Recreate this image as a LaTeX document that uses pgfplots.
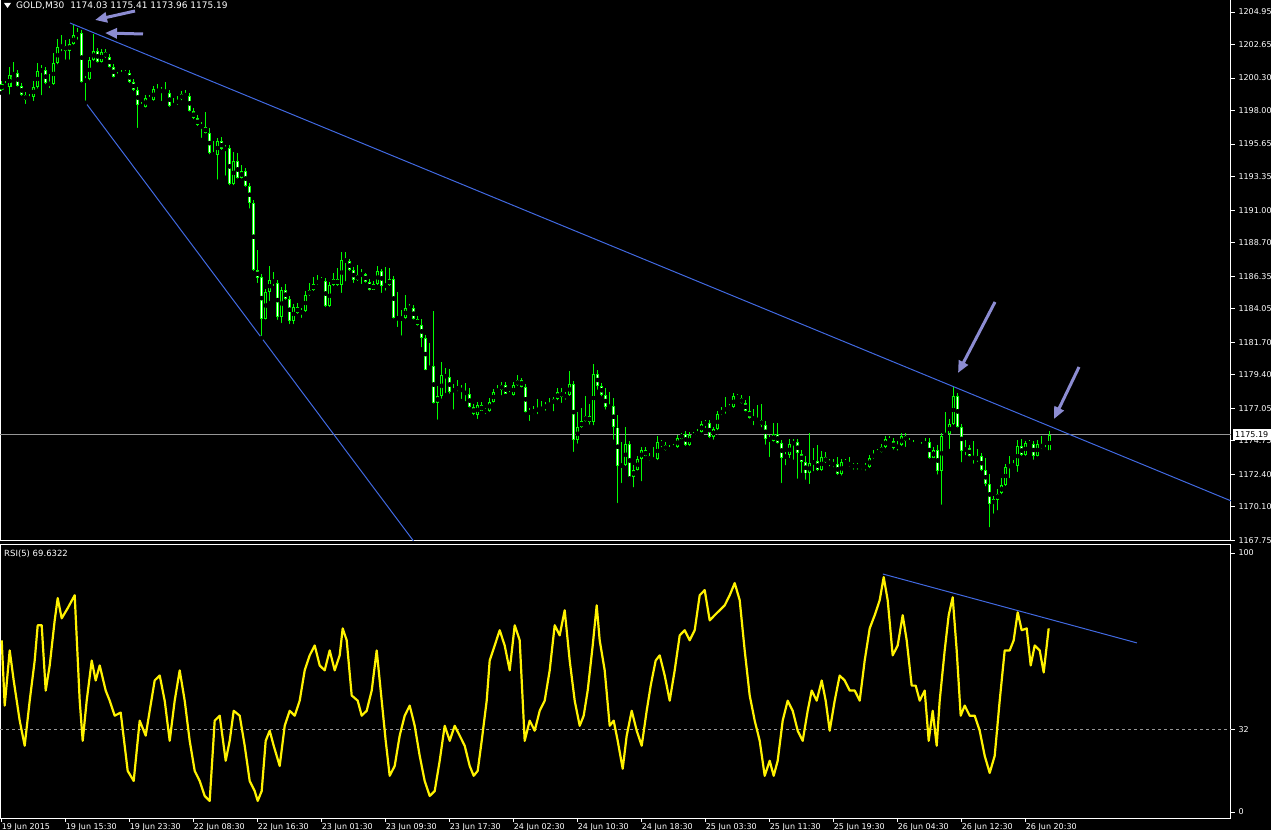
\documentclass[border=0pt]{standalone}
\usepackage{fontspec}
\setmainfont{DejaVu Sans}
\usepackage{pgfplots}
\usepackage{pgfplotstable}
\pgfplotsset{compat=1.18}
\usetikzlibrary{arrows.meta}

\definecolor{candle}{RGB}{0,255,0}
\definecolor{trend}{RGB}{65,105,225}
\definecolor{arrowc}{RGB}{140,140,210}
\definecolor{pline}{RGB}{150,150,150}

% GOLD M30 bars: index, open, high, low, close
\pgfplotstableread{
i o h l c
0 1199.46 1200.09 1199.25 1199.88
1 1199.88 1200.09 1199.46 1199.67
2 1199.67 1201.05 1198.99 1200.52
3 1200.52 1201.41 1200.31 1200.66
4 1200.66 1200.87 1199.55 1199.76
5 1199.76 1199.97 1198.90 1199.11
6 1199.11 1199.32 1198.33 1198.76
7 1198.76 1199.18 1198.55 1198.97
8 1198.97 1200.10 1198.54 1199.69
9 1199.69 1201.34 1199.41 1200.82
10 1200.82 1201.24 1198.95 1200.87
11 1200.87 1201.08 1199.72 1199.93
12 1199.93 1200.56 1199.46 1199.88
13 1199.88 1202.05 1199.67 1201.34
14 1201.34 1203.03 1201.13 1202.47
15 1202.47 1203.33 1202.04 1202.56
16 1202.56 1202.95 1201.45 1202.23
17 1202.23 1203.05 1201.45 1202.70
18 1202.70 1204.04 1202.50 1203.33
19 1203.33 1203.81 1202.86 1203.45
20 1203.45 1203.69 1199.83 1200.04
21 1200.04 1200.42 1198.56 1200.21
22 1200.21 1201.78 1200.00 1201.57
23 1201.57 1203.40 1201.36 1202.21
24 1202.21 1202.42 1201.24 1201.45
25 1201.45 1202.35 1201.24 1202.14
26 1202.14 1202.35 1201.57 1201.78
27 1201.78 1201.99 1200.89 1201.10
28 1201.10 1201.31 1200.19 1200.40
29 1200.40 1200.73 1200.19 1200.52
30 1200.52 1200.87 1200.31 1200.64
31 1200.64 1200.89 1200.47 1200.68
32 1200.68 1200.89 1199.81 1200.02
33 1200.02 1200.23 1199.25 1199.46
34 1199.46 1199.67 1196.64 1198.40
35 1198.40 1198.61 1198.07 1198.28
36 1198.28 1199.11 1198.07 1198.90
37 1198.90 1199.11 1198.55 1198.76
38 1198.76 1199.72 1198.55 1199.51
39 1199.51 1199.85 1199.11 1199.32
40 1199.32 1199.67 1198.54 1199.46
41 1199.46 1200.04 1199.04 1199.25
42 1199.25 1199.46 1198.12 1198.33
43 1198.33 1198.90 1198.12 1198.47
44 1198.47 1199.01 1198.26 1198.80
45 1198.80 1199.39 1198.59 1199.18
46 1199.18 1199.45 1198.83 1199.04
47 1199.04 1199.25 1197.79 1198.00
48 1198.00 1198.21 1197.26 1197.47
49 1197.47 1197.68 1196.78 1196.99
50 1196.99 1197.20 1195.94 1196.83
51 1196.83 1197.91 1196.24 1196.45
52 1196.45 1196.80 1194.79 1195.00
53 1195.00 1195.85 1194.67 1194.88
54 1194.88 1196.08 1193.00 1195.87
55 1195.87 1196.17 1195.09 1195.30
56 1195.30 1195.56 1193.28 1195.35
57 1195.35 1195.56 1192.61 1192.82
58 1192.82 1195.10 1192.61 1194.46
59 1194.46 1194.99 1193.07 1193.28
60 1193.28 1194.20 1193.07 1193.75
61 1193.75 1194.00 1192.49 1192.70
62 1192.70 1192.91 1190.96 1191.48
63 1191.48 1191.69 1186.57 1186.78
64 1186.78 1188.19 1185.72 1186.26
65 1186.26 1186.50 1181.99 1183.35
66 1183.35 1185.44 1183.14 1185.23
67 1185.23 1187.06 1184.45 1186.07
68 1186.07 1186.64 1185.51 1185.86
69 1185.86 1186.07 1183.12 1183.47
70 1183.47 1185.58 1182.90 1185.37
71 1185.37 1185.80 1184.53 1184.74
72 1184.74 1184.95 1182.83 1183.21
73 1183.21 1184.40 1182.83 1184.19
74 1184.19 1184.47 1183.54 1183.75
75 1183.75 1184.10 1183.26 1183.89
76 1183.89 1185.32 1183.68 1185.02
77 1185.02 1185.88 1184.81 1185.37
78 1185.37 1186.31 1185.16 1185.79
79 1185.79 1186.43 1185.58 1186.07
80 1186.07 1186.28 1185.79 1186.00
81 1186.00 1186.21 1184.03 1184.24
82 1184.24 1185.93 1184.03 1185.72
83 1185.72 1186.57 1185.51 1186.19
84 1186.19 1186.90 1185.51 1185.72
85 1185.72 1188.03 1185.02 1187.48
86 1187.48 1188.03 1185.84 1187.41
87 1187.41 1187.55 1186.57 1186.78
88 1186.78 1186.99 1185.72 1186.07
89 1186.07 1187.13 1185.86 1186.43
90 1186.43 1186.85 1185.65 1186.50
91 1186.50 1186.59 1185.74 1185.95
92 1185.95 1186.16 1185.18 1185.37
93 1185.37 1186.00 1185.23 1185.79
94 1185.79 1187.06 1185.58 1186.73
95 1186.73 1186.85 1185.02 1185.67
96 1185.67 1186.97 1185.18 1185.72
97 1185.72 1186.90 1185.51 1186.14
98 1186.14 1186.36 1183.21 1183.42
99 1183.42 1185.25 1182.62 1183.35
100 1183.35 1183.96 1182.01 1183.40
101 1183.40 1185.02 1183.19 1184.15
102 1184.15 1184.38 1183.89 1184.10
103 1184.10 1184.31 1183.14 1183.31
104 1183.31 1183.52 1182.71 1182.95
105 1182.95 1183.33 1181.19 1181.97
106 1181.97 1182.18 1179.57 1179.78
107 1179.78 1181.61 1179.61 1180.02
108 1180.02 1183.89 1177.22 1177.43
109 1177.43 1178.61 1176.09 1177.90
110 1177.90 1180.32 1177.57 1179.38
111 1179.38 1179.90 1177.97 1179.24
112 1179.24 1179.80 1177.92 1178.20
113 1178.20 1178.75 1176.80 1178.44
114 1178.44 1179.03 1178.09 1178.47
115 1178.47 1178.68 1177.55 1178.20
116 1178.20 1178.84 1177.39 1178.04
117 1178.04 1178.44 1176.94 1177.15
118 1177.15 1177.36 1176.40 1176.61
119 1176.61 1177.48 1176.14 1177.27
120 1177.27 1177.48 1176.72 1176.87
121 1176.87 1177.08 1176.49 1176.85
122 1176.85 1177.74 1176.64 1177.50
123 1177.50 1178.41 1177.29 1178.20
124 1178.20 1178.68 1177.99 1178.37
125 1178.37 1178.91 1177.81 1178.68
126 1178.68 1178.91 1177.90 1178.04
127 1178.04 1178.25 1177.78 1177.99
128 1177.99 1178.89 1177.78 1178.68
129 1178.68 1179.38 1178.47 1179.03
130 1179.03 1179.15 1178.35 1178.56
131 1178.56 1178.77 1176.59 1176.80
132 1176.80 1177.04 1176.00 1176.70
133 1176.70 1177.17 1176.49 1176.96
134 1176.96 1177.67 1176.49 1176.92
135 1176.92 1177.57 1176.72 1177.11
136 1177.11 1177.50 1176.72 1177.20
137 1177.20 1177.74 1176.99 1177.39
138 1177.39 1177.85 1176.68 1177.67
139 1177.67 1178.44 1177.46 1178.20
140 1178.20 1178.44 1177.27 1177.85
141 1177.85 1178.20 1177.50 1177.97
142 1177.97 1179.66 1177.76 1178.75
143 1178.75 1178.96 1173.82 1174.80
144 1174.80 1176.80 1174.40 1175.70
145 1175.70 1177.04 1175.51 1176.16
146 1176.16 1177.90 1175.95 1176.49
147 1176.49 1177.34 1175.74 1176.09
148 1176.09 1180.16 1175.70 1179.45
149 1179.45 1179.73 1178.20 1178.63
150 1178.63 1178.84 1177.74 1178.02
151 1178.02 1178.44 1176.80 1177.11
152 1177.11 1178.20 1176.87 1177.20
153 1177.20 1177.74 1174.68 1175.70
154 1175.70 1176.56 1170.22 1172.99
155 1172.99 1174.68 1171.63 1173.04
156 1173.04 1175.70 1172.83 1174.50
157 1174.50 1174.71 1172.10 1172.22
158 1172.22 1173.04 1171.33 1172.69
159 1172.69 1173.65 1172.50 1173.44
160 1173.44 1174.31 1171.75 1174.10
161 1174.10 1174.31 1173.51 1173.67
162 1173.67 1173.88 1173.20 1173.39
163 1173.39 1174.33 1173.20 1173.46
164 1173.46 1175.08 1173.25 1174.64
165 1174.64 1174.80 1174.15 1174.45
166 1174.45 1174.66 1173.91 1174.10
167 1174.10 1174.43 1173.89 1174.22
168 1174.22 1174.52 1173.98 1174.33
169 1174.33 1175.13 1174.10 1174.92
170 1174.92 1175.32 1174.71 1175.22
171 1175.22 1175.43 1174.24 1174.45
172 1174.45 1175.36 1174.24 1175.15
173 1175.15 1175.36 1174.94 1175.15
174 1175.15 1175.60 1174.94 1175.39
175 1175.39 1176.14 1175.18 1175.93
176 1175.93 1176.20 1175.51 1176.00
177 1176.00 1176.21 1174.80 1175.03
178 1175.03 1175.74 1174.68 1175.56
179 1175.56 1176.84 1175.35 1176.63
180 1176.63 1177.13 1176.42 1176.92
181 1176.92 1177.81 1176.51 1177.03
182 1177.03 1177.34 1176.76 1177.13
183 1177.13 1178.11 1176.92 1177.90
184 1177.90 1178.04 1177.55 1177.76
185 1177.76 1177.97 1177.22 1177.43
186 1177.43 1177.64 1176.66 1176.87
187 1176.87 1177.90 1176.16 1176.40
188 1176.40 1176.99 1175.70 1176.26
189 1176.26 1177.27 1176.02 1176.21
190 1176.21 1177.34 1175.56 1175.86
191 1175.86 1176.16 1174.33 1174.92
192 1174.92 1175.13 1173.46 1174.75
193 1174.75 1176.02 1174.54 1175.22
194 1175.22 1176.02 1174.40 1174.61
195 1174.61 1174.82 1171.63 1173.51
196 1173.51 1173.98 1172.88 1173.75
197 1173.75 1174.85 1173.39 1174.50
198 1174.50 1174.87 1173.27 1174.66
199 1174.66 1174.87 1171.93 1173.86
200 1173.86 1174.07 1172.34 1173.27
201 1173.27 1173.67 1171.86 1172.46
202 1172.46 1175.32 1171.56 1173.16
203 1173.16 1174.22 1172.46 1173.32
204 1173.32 1174.45 1172.48 1172.69
205 1172.69 1174.03 1172.48 1173.58
206 1173.58 1173.98 1173.04 1173.27
207 1173.27 1173.48 1172.81 1173.16
208 1173.16 1173.48 1172.74 1173.09
209 1173.09 1173.58 1172.20 1172.39
210 1172.39 1173.44 1172.15 1173.23
211 1173.23 1173.46 1173.02 1173.25
212 1173.25 1173.58 1172.78 1172.99
213 1172.99 1173.20 1172.57 1172.97
214 1172.97 1173.20 1172.57 1172.97
215 1172.97 1173.13 1172.60 1172.92
216 1172.92 1173.20 1172.50 1172.90
217 1172.90 1173.76 1172.69 1173.55
218 1173.55 1174.07 1173.34 1173.86
219 1173.86 1174.19 1173.67 1173.98
220 1173.98 1174.50 1173.77 1174.29
221 1174.29 1175.08 1174.08 1174.87
222 1174.87 1175.08 1174.52 1174.73
223 1174.73 1174.94 1173.98 1174.22
224 1174.22 1174.73 1173.91 1174.45
225 1174.45 1175.29 1174.24 1175.08
226 1175.08 1175.29 1174.17 1174.75
227 1174.75 1174.92 1174.36 1174.57
228 1174.57 1174.78 1174.22 1174.43
229 1174.43 1174.54 1174.12 1174.33
230 1174.33 1174.66 1174.12 1174.45
231 1174.45 1174.92 1174.24 1174.68
232 1174.68 1174.96 1173.34 1173.55
233 1173.55 1174.31 1173.39 1174.10
234 1174.10 1174.45 1172.22 1172.62
235 1172.62 1175.31 1170.10 1175.10
236 1175.10 1176.75 1174.92 1175.22
237 1175.22 1176.30 1174.03 1175.93
238 1175.93 1178.61 1175.72 1177.90
239 1177.90 1178.11 1175.53 1175.74
240 1175.74 1175.95 1173.09 1174.03
241 1174.03 1174.80 1173.58 1174.24
242 1174.24 1174.45 1173.49 1173.70
243 1173.70 1174.73 1172.99 1173.39
244 1173.39 1174.17 1173.11 1173.67
245 1173.67 1173.88 1172.48 1172.69
246 1172.69 1173.55 1171.40 1171.68
247 1171.68 1172.41 1168.51 1170.27
248 1170.27 1170.86 1169.47 1170.62
249 1170.62 1171.35 1169.71 1171.05
250 1171.05 1172.10 1170.84 1171.63
251 1171.63 1173.13 1171.42 1172.92
252 1172.92 1173.67 1171.98 1173.04
253 1173.04 1173.39 1172.69 1172.97
254 1172.97 1174.80 1172.41 1174.38
255 1174.38 1174.87 1173.54 1173.75
256 1173.75 1174.73 1173.54 1174.61
257 1174.61 1174.80 1174.31 1174.52
258 1174.52 1174.73 1173.27 1173.70
259 1173.70 1174.80 1173.49 1174.52
260 1174.52 1175.10 1174.05 1174.26
261 1174.26 1174.47 1173.82 1174.03
262 1174.03 1175.41 1173.96 1175.19
}\gold

% RSI(5)
\pgfplotstableread{
i r
0 66.3
0.75 41.1
2 62.4
3 50.8
4.5 35.3
5.75 25.6
7 43.0
8.25 58.5
9 72.1
10 72.1
11 46.9
12 56.6
13.25 74.0
14 82.6
15 74.8
16.5 78.7
18.25 83.7
19.5 43.0
20.25 27.5
21.25 43.0
22.5 58.5
23.5 50.8
24.5 56.6
26 46.9
27 43.0
28.25 37.2
29.75 38.4
31.5 15.9
33 12.0
34.5 35.3
36 29.5
37 39.1
38.25 50.8
39.5 52.7
40.75 43.0
42 27.5
43.25 43.0
44.5 54.7
45.75 43.0
47 27.5
48.25 15.9
49.5 12.0
50.75 6.2
52 4.3
53.25 35.3
54.5 37.2
56 19.8
57 27.5
58 39.1
59.5 37.2
60.75 25.6
62 12.0
63.25 8.1
64 4.3
65 8.1
66 27.5
67 31.4
68 25.6
69.5 17.8
70.75 33.3
72 39.1
73.25 37.2
74.5 43.0
75.75 54.7
77 60.5
78.25 64.3
79.5 56.6
80.75 54.7
82 62.4
83.25 54.7
84.5 60.5
85.25 70.9
86.25 66.3
87.5 45.0
89 43.0
90 37.2
91.25 39.1
92.5 46.9
93.75 62.4
94.75 46.9
96 27.5
97 14.0
98.25 17.8
99.5 29.5
100.75 37.2
102 41.1
103.25 33.3
104.5 21.7
105.75 12.0
107 6.2
108.25 8.1
109.5 19.8
110.75 33.3
112 27.5
113.25 33.3
114.5 29.5
115.75 25.6
117 17.8
118 14.0
119 15.9
120 27.5
121.25 43.0
122 58.5
123.25 64.3
124.5 70.2
125.75 64.3
127 54.7
128.25 72.1
129.5 66.3
130.75 27.5
132 35.3
133.25 31.4
134.5 39.1
135.75 43.0
137 54.7
138.25 72.1
139.5 68.2
140.75 77.9
142 58.5
143.25 43.0
144.5 33.3
145.5 37.2
146.5 46.9
147.75 64.3
148.75 79.8
149.5 66.3
150.75 54.7
152 33.3
153 35.3
154 27.5
155.25 16.7
156.25 29.5
157.5 39.1
158.75 31.4
160 25.6
161.25 39.1
162.25 48.8
163.5 58.5
164.5 60.5
165.75 52.7
167 43.0
168.25 54.7
169.5 68.2
170.75 70.2
172 66.3
173.25 70.2
174.5 83.7
175.75 85.7
177 74.0
178.25 76.0
179.5 77.9
180.75 79.8
182 83.7
183.25 88.4
184.5 81.8
185.75 62.4
187 45.0
188.25 35.3
189.5 27.5
190.75 14.0
192 19.8
193 14.0
194 19.8
195.25 35.3
196.5 43.0
197.75 39.1
199 31.4
200.25 27.5
201.5 39.1
202.5 46.9
203.75 43.0
205 50.8
206 43.0
207 31.4
208.25 43.0
209.5 52.7
210.75 50.8
212 46.9
213.25 46.9
214.5 43.0
215.75 58.5
217 70.9
218.25 76.0
219.5 81.8
220.5 90.7
221.5 81.8
222.75 60.5
224 64.3
225.25 76.0
226.25 66.3
227.5 48.8
228.5 48.8
229.5 43.0
230.75 46.9
231.75 27.5
232.75 39.1
233.75 25.6
234.5 43.0
235.75 62.4
236.75 76.0
237.75 82.9
238.75 62.4
239.75 37.2
240.75 41.1
242 37.2
243.25 37.2
244.5 31.4
245.75 21.7
247 15.1
248.25 21.7
249.5 43.0
250.75 62.4
252 62.4
253 66.3
254 77.1
255 70.2
256.25 70.9
257.25 56.6
258.25 64.3
259.5 62.4
260.5 53.9
261.75 70.9
}\rsi

\pgfplotsset{
  mt/.style={
    scale only axis, width=1231pt,
    xmin=-0.425, xmax=307.325,
    axis line style={white, line width=1pt},
    tick style={white, line width=1pt},
    major tick length=4pt,
    tick align=outside,
    ytick pos=right, yticklabel pos=right,
    tick label style={font=\fontsize{8}{9}\selectfont, text=white},
    /pgf/number format/assume math mode=true,
    /pgf/number format/1000 sep={},
    scaled y ticks=false,
  },
}

\begin{document}
\begin{tikzpicture}
\useasboundingbox (0,0) rectangle (1271pt,830pt);
\fill[black] (0,0) rectangle (1271pt,830pt);

% price panel
\begin{axis}[mt,
  at={(0pt,289pt)}, anchor=south west, height=541pt,
  ymin=1167.69, ymax=1205.80,
  xtick=\empty,
  ytick={1167.75,1170.10,1172.40,1174.75,1177.05,1179.40,1181.70,1184.05,1186.35,1188.70,1191.00,1193.35,1195.65,1198.00,1200.30,1202.65,1204.95},
  yticklabel style={/pgf/number format/fixed, /pgf/number format/fixed zerofill, /pgf/number format/precision=2},
]
\addplot[pline, line width=1pt, forget plot] coordinates {(-0.425,1175.19) (307.325,1175.19)};
% wicks
\addplot[only marks, mark=none, forget plot,
  error bars/.cd, y dir=plus, y explicit, error mark=none,
  error bar style={candle, line width=1pt}]
  table[x=i, y=l, y error plus expr=\thisrow{h}-\thisrow{l}] {\gold};
% bodies
\addplot[only marks, mark=none, forget plot,
  error bars/.cd, y dir=both, y explicit, error mark=none,
  error bar style={candle, line width=3.6pt}]
  table[x=i, y expr={(\thisrow{o}+\thisrow{c})/2},
        y error expr={max(abs(\thisrow{c}-\thisrow{o})/2,0.04)}] {\gold};
% up bars: black inside
\addplot[only marks, mark=none, forget plot,
  error bars/.cd, y dir=both, y explicit, error mark=none,
  error bar style={black, line width=1.6pt}]
  table[x=i, y expr={\thisrow{c}>\thisrow{o} ? (\thisrow{o}+\thisrow{c})/2 : nan},
        y error expr={max(abs(\thisrow{c}-\thisrow{o})/2-0.07,0)}] {\gold};
% down bars: white inside
\addplot[only marks, mark=none, forget plot,
  error bars/.cd, y dir=both, y explicit, error mark=none,
  error bar style={white, line width=1.6pt}]
  table[x=i, y expr={\thisrow{c}<\thisrow{o} ? (\thisrow{o}+\thisrow{c})/2 : nan},
        y error expr={max(abs(\thisrow{c}-\thisrow{o})/2-0.07,0)}] {\gold};
% trend lines
\addplot[trend, line width=1pt, forget plot] coordinates {(17.08,1204.18) (307.3,1170.52)};
\addplot[trend, line width=1pt, forget plot] coordinates {(21.0,1198.56) (102.95,1167.69)};
\end{axis}

% RSI panel
\begin{axis}[mt,
  at={(0pt,12pt)}, anchor=south west, height=273pt,
  ymin=-2.3, ymax=103.1,
  ytick={0,32,100},
  xtick={0,16,...,256},
  xtick pos=bottom,
  xticklabels={19 Jun 2015, 19 Jun 15:30, 19 Jun 23:30, 22 Jun 08:30, 22 Jun 16:30, 23 Jun 01:30, 23 Jun 09:30, 23 Jun 17:30, 24 Jun 02:30, 24 Jun 10:30, 24 Jun 18:30, 25 Jun 03:30, 25 Jun 11:30, 25 Jun 19:30, 26 Jun 04:30, 26 Jun 12:30, 26 Jun 20:30},
  xticklabel style={anchor=north west, inner sep=0pt, xshift=0pt, yshift=-1pt},
]
\addplot[pline, line width=1pt, dash pattern=on 3pt off 3pt, forget plot] coordinates {(-0.425,32) (307.325,32)};
\addplot[yellow, line width=2.2pt, line join=round] table[x=i, y=r] {\rsi};
\addplot[trend, line width=1pt, forget plot] coordinates {(220.3,91.9) (283.8,65.3)};
\end{axis}

% header texts
\fill[white] (4pt,827pt) -- (11pt,827pt) -- (7.5pt,822pt) -- cycle;
\node[anchor=west, text=white, inner sep=0pt, font=\fontsize{9}{10}\selectfont] at (16pt,824.5pt) {GOLD,M30\hspace{6pt}1174.03 1175.41 1173.96 1175.19};
\node[anchor=west, text=white, inner sep=0pt, font=\fontsize{8.5}{10}\selectfont] at (4pt,276pt) {RSI(5) 69.6322};

% current price tag
\node[fill=white, text=black, inner sep=1pt, minimum width=38pt, minimum height=11pt, anchor=west, font=\fontsize{8}{9}\selectfont] at (1232.5pt,395pt) {1175.19};

% arrows
\begin{scope}[arrowc, line width=3pt, -{Triangle[width=10pt,length=12pt]}]
\draw (135pt,819pt) -- (95pt,810pt);
\draw (143pt,796pt) -- (105pt,797pt);
\draw (995pt,528pt) -- (958pt,457pt);
\draw (1079pt,463pt) -- (1054pt,411pt);
\end{scope}
\end{tikzpicture}
\end{document}
